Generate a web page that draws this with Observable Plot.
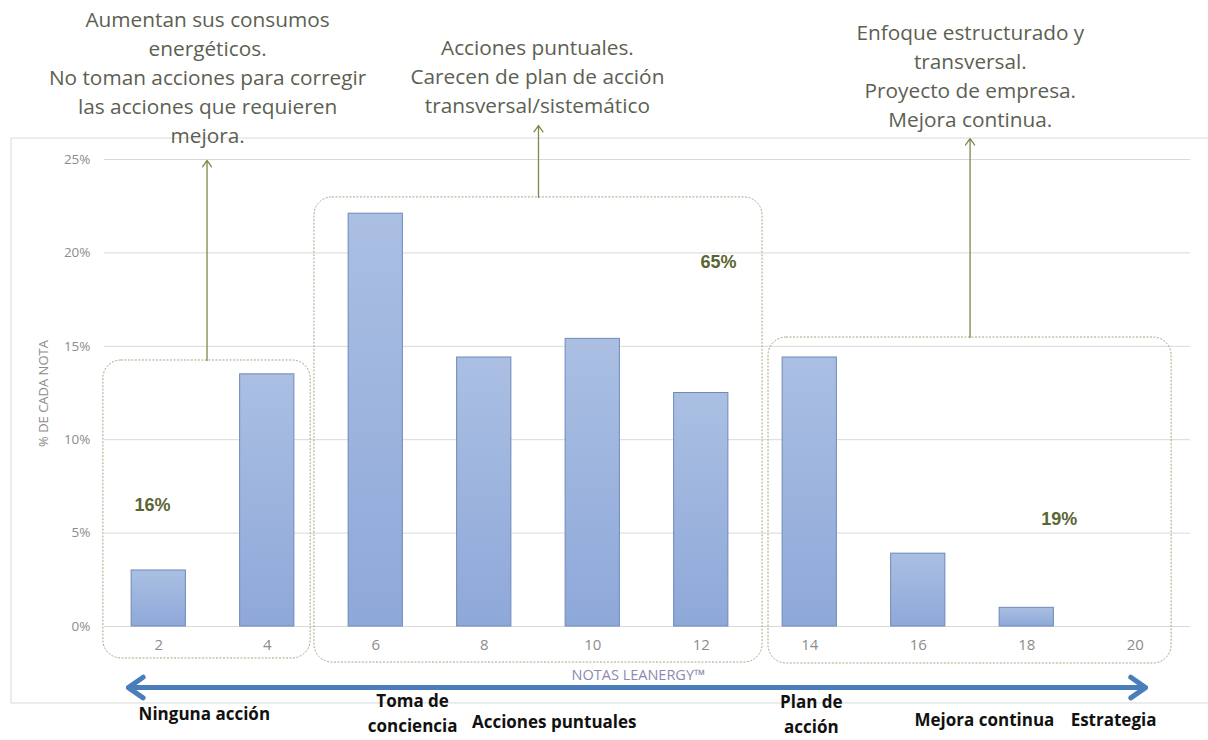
<!DOCTYPE html>
<html><head><meta charset="utf-8">
<script src="https://cdn.jsdelivr.net/npm/d3@7"></script>
<script src="https://cdn.jsdelivr.net/npm/@observablehq/plot@0.6"></script>
<style>body{margin:0;background:#fff}</style>
</head><body><div id="chart"></div>
<script>
// ---- data ----
const notes = [2, 4, 6, 8, 10, 12, 14, 16, 18, 20];
const shares = [3.0, 13.5, 22.1, 14.4, 15.4, 12.5, 14.4, 3.9, 1.0, 0];
const yTicks = [0, 5, 10, 15, 20, 25];
const groupShares = ["16%", "65%", "19%"];
const groupTexts = [
  "Aumentan sus consumos\nenergéticos.\nNo toman acciones para corregir\nlas acciones que requieren\nmejora.",
  "Acciones puntuales.\nCarecen de plan de acción\ntransversal/sistemático",
  "Enfoque estructurado y\ntransversal.\nProyecto de empresa.\nMejora continua."
];
const stages = ["Ninguna acción", "Toma de\nconciencia", "Acciones puntuales", "Plan de\nacción", "Mejora continua", "Estrategia"];
const yTitle = "% DE CADA NOTA";
const xTitle = "NOTAS LEANERGY™";

const bars = notes.map((n, i) => ({note: n, share: shares[i]})).filter(d => d.share > 0);

// ---- layout (in scale units) ----
const boxes = [
  {x1: 0.98, x2: 4.8, y1: -1.71, y2: 14.24, tip: 24.95},
  {x1: 4.87, x2: 13.13, y1: -1.93, y2: 22.97, tip: 26.82},
  {x1: 13.24, x2: 20.67, y1: -1.98, y2: 15.47, tip: 26.12}
];
const textPos = [{x: 2.9, y: 29.47}, {x: 8.98, y: 29.55}, {x: 16.96, y: 29.56}];
const pctPos = [{x: 1.885, y: 6.48}, {x: 12.32, y: 19.49}, {x: 18.6, y: 5.73}];
const stagePos = [{x: 2.84, y: -4.55}, {x: 6.68, y: -4.55}, {x: 9.29, y: -5.0}, {x: 14.03, y: -4.6}, {x: 17.22, y: -4.9}, {x: 19.6, y: -4.9}];

const olive = "#7b8a4a";
const font = "'Open Sans', sans-serif";

const chart = Plot.plot({
  width: 1208, height: 740,
  marginLeft: 104, marginRight: 19, marginTop: 159, marginBottom: 114,
  x: {domain: [1, 21]},
  y: {domain: [0, 25]},
  style: {fontFamily: font, background: "#fff"},
  marks: [
    // outer chart border
    Plot.rect([0], {x1: -0.714, x2: 22.5, y1: -4.12, y2: 26.12, fill: "none", stroke: "#d9d9d9"}),
    Plot.ruleY(yTicks, {x1: 1, x2: 21.02, stroke: "#d9d9d9"}),
    Plot.axisY({ticks: yTicks, tickSize: 0, tickPadding: 14, tickFormat: d => d + "%", label: null, fontSize: 13.5, color: "#8c8c8c"}),
    Plot.axisX({ticks: notes, tickSize: 0, tickPadding: 13, label: null, fontSize: 15, color: "#8c8c8c"}),
    Plot.text([yTitle], {x: -0.12, y: 12.47, rotate: -90, fontSize: 13, fill: "#8c8c8c", text: d => d}),
    Plot.text([xTitle], {x: 10.84, y: -2.62, fontSize: 14.5, fill: "#8a8ab0", text: d => d}),
    Plot.rectY(bars, {x1: d => d.note - 0.5, x2: d => d.note + 0.5, y: "share", fill: "url(#barGrad)", stroke: "#6f89b9", strokeWidth: 1}),
    // group boxes
    Plot.rect(boxes, {x1: "x1", x2: "x2", y1: "y1", y2: "y2", fill: "none", stroke: "#a3a884", strokeDasharray: "2,1.5", rx: 18}),
    Plot.arrow(boxes, {x1: d => (d.x1 + d.x2) / 2, x2: d => (d.x1 + d.x2) / 2, y1: "y2", y2: "tip", stroke: olive, strokeWidth: 1.3, headLength: 9, headAngle: 70}),
    Plot.text(groupTexts, {x: (d, i) => textPos[i].x, y: (d, i) => textPos[i].y, text: d => d, fontSize: 20.8, lineHeight: 1.39, fill: "#5c5f52", textAnchor: "middle"}),
    Plot.text(groupShares, {x: (d, i) => pctPos[i].x, y: (d, i) => pctPos[i].y, text: d => d, fontSize: 18, fontWeight: "bold", fill: "#5b6634", fontFamily: "'Liberation Sans', Arial, sans-serif"}),
    // blue progression arrow
    Plot.arrow([{a: 10.8, b: 1.44}, {a: 10.8, b: 20.19}], {x1: "a", x2: "b", y1: -3.27, y2: -3.27, stroke: "#4a7ebb", strokeWidth: 5, headLength: 5.4, headAngle: 70}),
    Plot.text(stages, {x: (d, i) => stagePos[i].x, y: (d, i) => stagePos[i].y, text: d => d, fontSize: 17, fontWeight: "bold", fill: "#111", lineHeight: 1.5})
  ]
});

chart.insertAdjacentHTML("afterbegin",
  '<defs><linearGradient id="barGrad" x1="0" y1="0" x2="0" y2="1">' +
  '<stop offset="0" stop-color="#aabfe2"/><stop offset="1" stop-color="#8ea8d9"/></linearGradient></defs>');
document.getElementById("chart").appendChild(chart);
</script>
</body></html>
